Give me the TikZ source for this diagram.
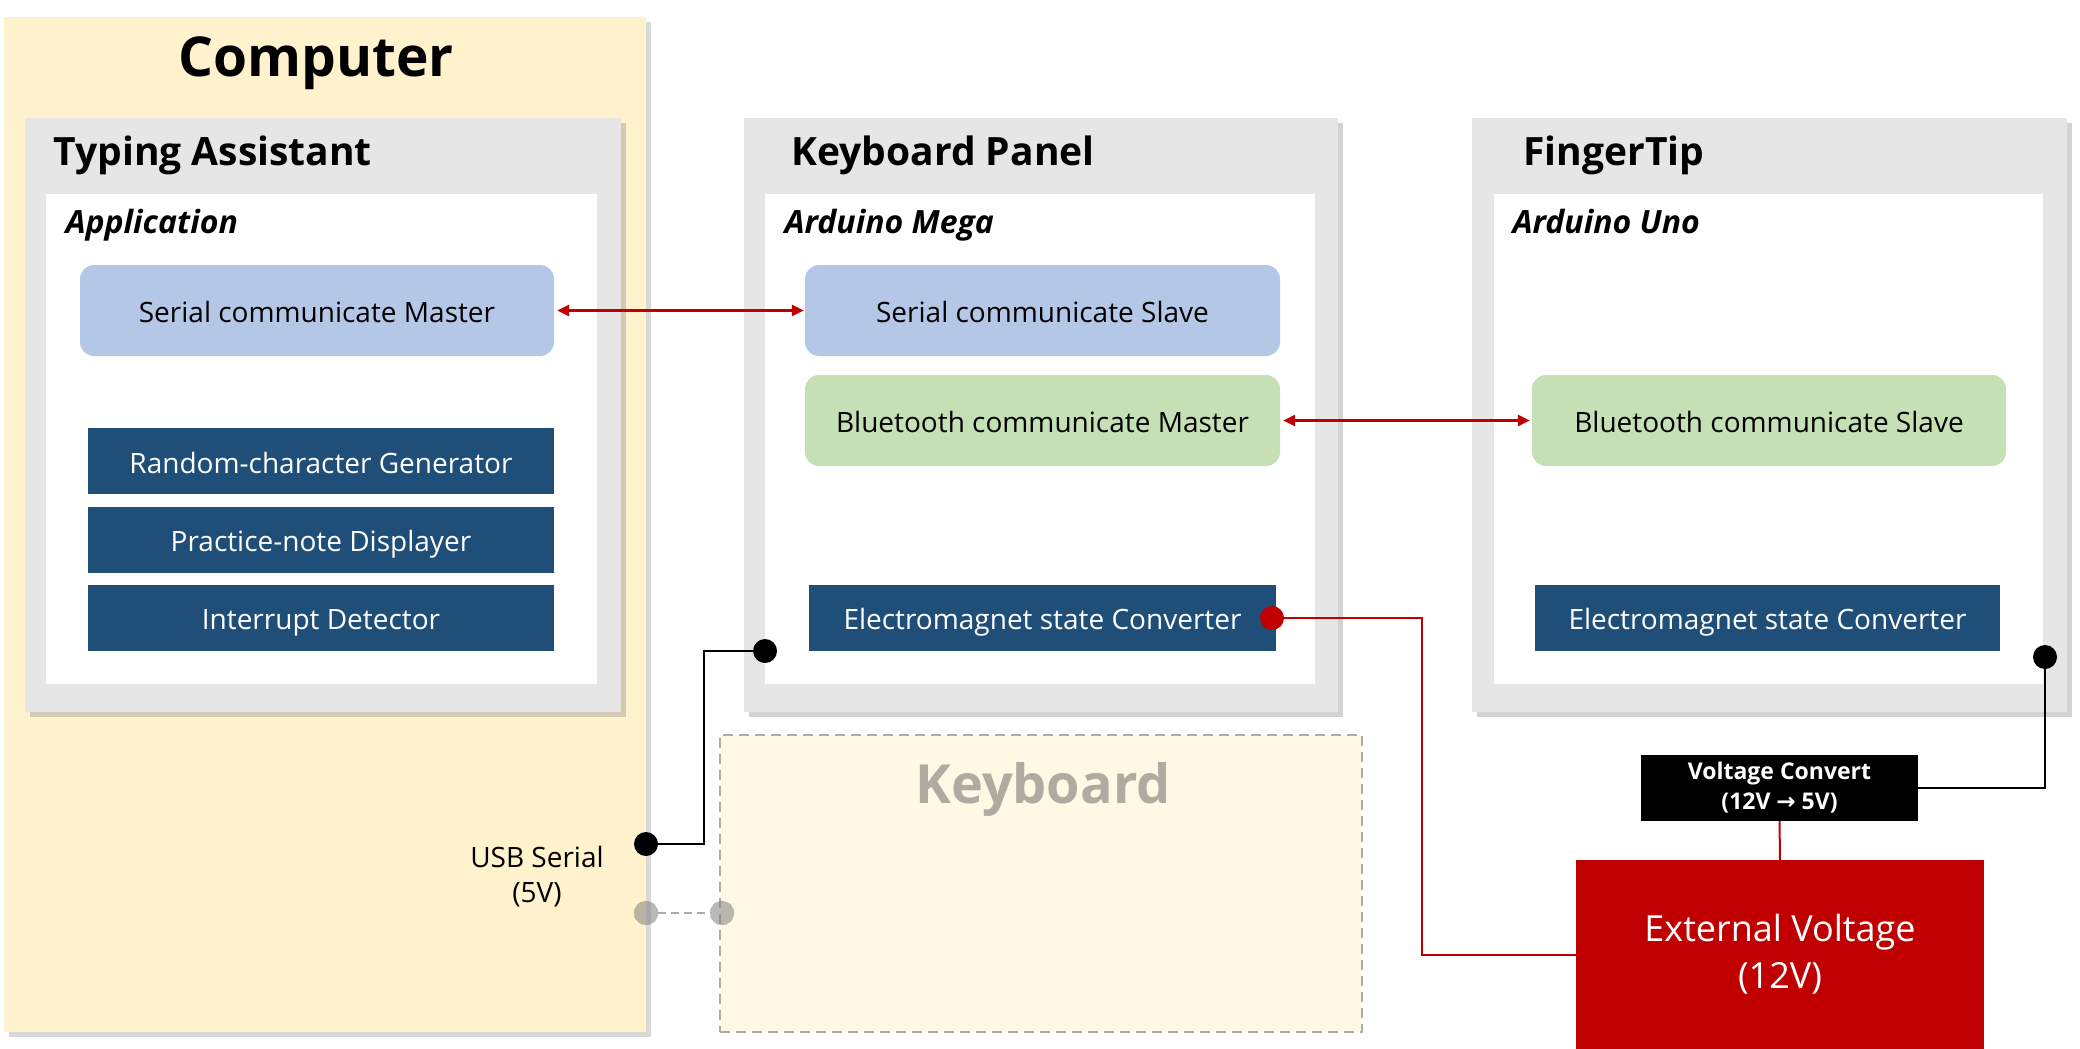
\documentclass[tikz,border=0pt]{standalone}
\usepackage{fontspec}
\setmainfont{Open Sans}
\newfontfamily\symfont{DejaVu Sans}
\usetikzlibrary{arrows.meta,shadows}

\definecolor{compyellow}{HTML}{FFF2CC}
\definecolor{kbyellow}{HTML}{FFF8E5}
\definecolor{panelgray}{HTML}{E6E6E6}
\definecolor{commblue}{HTML}{B4C7E7}
\definecolor{commgreen}{HTML}{C5E0B4}
\definecolor{moddark}{HTML}{1F4E79}
\definecolor{pwrred}{HTML}{C00000}
\definecolor{kbgray}{HTML}{AFABA0}

\newcommand\txtbody{\fontsize{28}{35}\selectfont}
\newcommand\txttitle{\fontsize{39}{48}\selectfont\bfseries}
\newcommand\txtsub{\fontsize{32}{38}\selectfont\bfseries\itshape}

\tikzset{
  panel/.style={fill=panelgray, minimum width=594pt, minimum height=594pt,
    drop shadow={shadow xshift=5pt, shadow yshift=-5pt, opacity=.35}},
  board/.style={fill=white, minimum width=550pt, minimum height=490pt},
  commbox/.style={rounded corners=14pt, minimum width=475pt, minimum height=91pt,
    text height=24pt, text depth=0pt, font=\txtbody},
  modbox/.style={fill=moddark, text=white, minimum width=466pt, minimum height=66pt,
    text height=24pt, text depth=0pt, font=\txtbody},
  heading/.style={anchor=base west, font=\txttitle},
  subheading/.style={anchor=base west, font=\txtsub},
  dot/.style={circle, fill=black, inner sep=0pt, minimum size=24pt},
  ghostdot/.style={circle, fill=gray, fill opacity=.55, draw=kbgray,
    dash pattern=on 5pt off 3pt, inner sep=0pt, minimum size=24pt},
  link/.style={{Triangle[length=12pt,width=11pt]}-{Triangle[length=12pt,width=11pt]},
    pwrred, line width=2.5pt}
}

\begin{document}
\begin{tikzpicture}[x=1pt, y=-1pt]
  \useasboundingbox (0,0) rectangle (2080,1049);

  % Computer
  \node[fill=compyellow, minimum width=642pt, minimum height=1015pt,
    drop shadow={shadow xshift=5pt, shadow yshift=-5pt, opacity=.3}]
    (comp) at (325,524.5) {};
  \node[anchor=base, font=\fontsize{55}{60}\selectfont\bfseries] (comptitle) at (316,77) {Computer};

  % Typing Assistant
  \node[panel, minimum width=596pt] (ta) at (323,415) {};
  \node[board, minimum width=551pt] (taboard) at (321.5,439) {};
  \node[heading] (tatitle) at (50,165) {Typing Assistant};
  \node[subheading] (tasub) at (62,233) {Application};
  \node[commbox, fill=commblue, minimum width=474pt] (scm) at (317,310.5) {Serial communicate Master};
  \node[modbox] (rcg) at (321,461) {Random-character Generator};
  \node[modbox] (pnd) at (321,539.5) {Practice-note Displayer};
  \node[modbox] (ird) at (321,617.5) {Interrupt Detector};

  % Keyboard Panel
  \node[panel] (kp) at (1041,415) {};
  \node[board] (kpboard) at (1040,439) {};
  \node[heading] (kptitle) at (788,165) {Keyboard Panel};
  \node[subheading] (kpsub) at (781,233) {Arduino Mega};
  \node[commbox, fill=commblue] (scs) at (1042.5,310.5) {Serial communicate Slave};
  \node[commbox, fill=commgreen] (bcm) at (1042.5,420.5) {Bluetooth communicate Master};
  \node[modbox, minimum width=467pt] (kpesc) at (1042.5,617.5) {Electromagnet state Converter};

  % FingerTip
  \node[panel, minimum width=595pt] (ft) at (1769.5,415) {};
  \node[board, minimum width=549pt] (ftboard) at (1768.5,439) {};
  \node[heading] (fttitle) at (1520,165) {FingerTip};
  \node[subheading] (ftsub) at (1509,233) {Arduino Uno};
  \node[commbox, fill=commgreen, minimum width=474pt] (bcs) at (1769,420.5) {Bluetooth communicate Slave};
  \node[modbox, minimum width=465pt] (ftesc) at (1767.5,617.5) {Electromagnet state Converter};

  % Keyboard
  \node[fill=kbyellow, draw=kbgray, dash pattern=on 10pt off 6pt, line width=2.5pt,
    minimum width=642pt, minimum height=297pt] (kb) at (1041,883.5) {};
  \node[anchor=base, text=kbgray, font=\fontsize{54}{60}\selectfont\bfseries] (kbtitle) at (1043,803) {Keyboard};

  % power
  \node[fill=black, text=white, align=center, minimum width=277pt, minimum height=66pt,
    font=\fontsize{23}{30}\selectfont\bfseries] (vc) at (1779.5,788) {Voltage Convert\\(12V {\symfont\bfseries →} 5V)};
  \node[fill=pwrred, text=white, align=center, minimum width=408pt, minimum height=189pt,
    font=\fontsize{36}{47}\selectfont] (ext) at (1780,954.5) {External Voltage\\(12V)};

  \node[align=center, font=\txtbody] (usb) at (537,877) {USB Serial\\(5V)};

  % ports
  \node[dot, fill=pwrred] (kpdot) at (1272,618) {};
  \node[dot] (kpgnd) at (765,651) {};
  \node[dot] (usbdot) at (646,844) {};
  \node[dot] (ftdot) at (2045,657) {};
  \node[ghostdot] (kbA) at (646,913) {};
  \node[ghostdot] (kbB) at (722,913) {};
  \coordinate (usbbend) at (704,651);
  \coordinate (redbend) at (1422,618);

  % links
  \draw[link, shorten <=3pt, shorten >=1pt] (scm.east) -- (scs.west);
  \draw[link, shorten <=3pt, shorten >=2pt] (bcm.east) -- (bcs.west);
  \draw[line width=2.5pt] (usbdot) -| (usbbend) -- (kpgnd);
  \draw[pwrred, line width=2pt] (kpdot) -- (redbend) |- (ext.west);
  \draw[line width=2.5pt] (ftdot) |- (vc.east);
  \draw[pwrred, line width=2pt] (vc.south) -- (ext.north);
  \draw[kbgray, dash pattern=on 8pt off 5pt, line width=2pt] (kbA) -- (kbB);
\end{tikzpicture}
\end{document}
